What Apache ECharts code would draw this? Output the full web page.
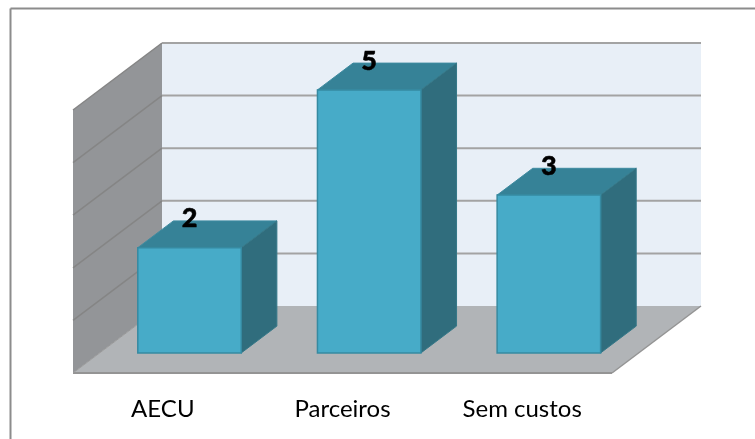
<!DOCTYPE html>
<html>
<head>
<meta charset="utf-8">
<style>html,body{margin:0;padding:0;background:#fff}#c{width:755px;height:439px}</style>
<script src="https://cdn.jsdelivr.net/npm/echarts@6/dist/echarts.min.js"></script>
</head>
<body>
<div id="c"></div>
<script>
const categories = ['AECU', 'Parceiros', 'Sem custos'];
const values = [2, 5, 3];
const yTicks = [1, 2, 3, 4, 5];

const DX = 89, DY = 67;          // wall depth in pixels
const FRONT = 0.30, DEEP = 0.40; // bar placement as a share of the depth
const BAR = 0.576;               // bar width as a share of a category band
const FONT = 'Lato, "Open Sans", sans-serif';

const poly = (points, fill, stroke, lineWidth) => ({
  type: 'polygon', shape: { points },
  style: { fill, stroke: stroke || null, lineWidth: lineWidth || 0 }
});
const line = (a, b, stroke, lineWidth) => ({
  type: 'line', shape: { x1: a[0], y1: a[1], x2: b[0], y2: b[1] },
  style: { stroke, lineWidth }
});

function renderWalls(params, api) {
  const c = params.coordSys;
  const L = c.x, R = c.x + c.width, T = c.y, B = c.y + c.height;
  return { type: 'group', children: [
    poly([[L + DX, T - DY], [R + DX, T - DY], [R + DX, B - DY], [L + DX, B - DY]], '#e8eff7'),
    poly([[L, T], [L + DX, T - DY], [L + DX, B - DY], [L, B]], '#939598'),
    poly([[L, B], [R, B], [R + DX, B - DY], [L + DX, B - DY]], '#b1b4b7'),
    line([L, B], [R, B], '#949494', 2),
    line([R, B], [R + DX, B - DY], '#949494', 1.5),
    line([L, B], [L + DX, B - DY], '#9a9a9a', 1)
  ]};
}

function renderGrid(params, api) {
  const c = params.coordSys;
  const L = c.x, R = c.x + c.width;
  const y = api.coord([0, api.value(1)])[1];
  return { type: 'group', children: [
    line([L, y], [L + DX, y - DY], '#858585', 1.5),
    line([L + DX, y - DY], [R + DX, y - DY], '#a3a3a3', 2)
  ]};
}

function renderBar(params, api) {
  const band = api.size([1, 0])[0];
  const w = band * BAR;
  const top = api.coord([api.value(0), api.value(1)]);
  const base = api.coord([api.value(0), 0]);
  const ox = DX * FRONT, oy = DY * FRONT;
  const dx = DX * DEEP, dy = DY * DEEP;
  const x0 = top[0] + ox - w / 2, x1 = x0 + w;
  const yT = top[1] - oy, yB = base[1] - oy;
  return { type: 'group', children: [
    poly([[x0, yT], [x1, yT], [x1 + dx, yT - dy], [x0 + dx, yT - dy]], '#368297', '#3f8ba0', 1),
    poly([[x1, yT], [x1 + dx, yT - dy], [x1 + dx, yB - dy], [x1, yB]], '#306d7d', '#357888', 1),
    poly([[x0, yT], [x1, yT], [x1, yB], [x0, yB]], '#47abc8', '#368aa1', 1.5),
    { type: 'text', style: {
        x: (x0 + x1) / 2, y: yT - 29, text: String(api.value(1)),
        fill: '#000', fontFamily: FONT, fontSize: 27, fontWeight: 900,
        stroke: '#000', lineWidth: 0.5,
        align: 'center', verticalAlign: 'middle'
      }, z2: 10 }
  ]};
}

const chart = echarts.init(document.getElementById('c'), null, { renderer: 'canvas' });
chart.setOption({
  animation: false,
  backgroundColor: '#fff',
  graphic: [
    { type: 'line', shape: { x1: 10.5, y1: 8.5, x2: 755, y2: 8.5 }, style: { stroke: '#8c8c8c', lineWidth: 2 } },
    { type: 'line', shape: { x1: 10.5, y1: 8.5, x2: 10.5, y2: 439 }, style: { stroke: '#8c8c8c', lineWidth: 2 } }
  ],
  grid: { left: 73, right: 143, top: 110, bottom: 66 },
  xAxis: {
    type: 'category', data: categories,
    axisLine: { show: false }, axisTick: { show: false }, splitLine: { show: false },
    axisLabel: { color: '#000', fontFamily: FONT, fontSize: 24, margin: 24, interval: 0 }
  },
  yAxis: {
    type: 'value', min: 0, max: 5, interval: 1,
    axisLine: { show: false }, axisTick: { show: false },
    axisLabel: { show: false }, splitLine: { show: false }
  },
  series: [
    { type: 'custom', clip: false, silent: true, z: 1, renderItem: renderWalls, data: [[0, 0]] },
    { type: 'custom', clip: false, silent: true, z: 2, renderItem: renderGrid,
      data: yTicks.map(t => [0, t]) },
    { type: 'custom', clip: false, z: 3, renderItem: renderBar,
      data: values.map((v, i) => [i, v]) }
  ]
});
</script>
</body>
</html>
